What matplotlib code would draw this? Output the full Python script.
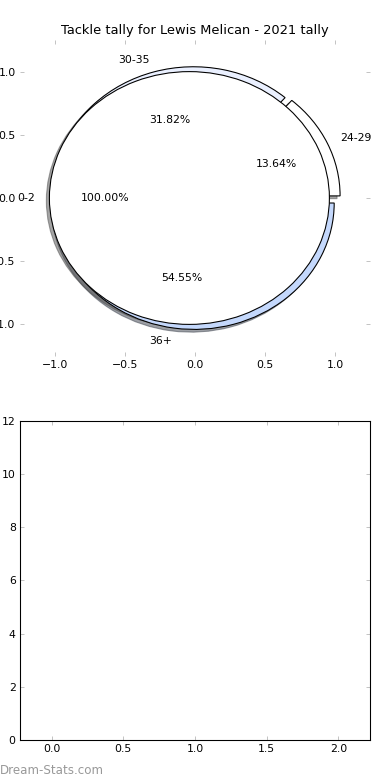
import matplotlib
matplotlib.use("Agg")
import matplotlib.pyplot as plt

# Data
outer_labels = ["24-29", "30-35", "36+"]
outer_values = [3, 7, 12]
outer_colors = ["#ffffff", "#eaf0ff", "#c4d8fc"]
inner_labels = ["0-2"]
inner_values = [22]
inner_colors = ["#ffffff"]
title = "Tackle tally for Lewis Melican - 2021 tally"

plt.rcParams.update({
    "font.family": "DejaVu Sans",
    "font.size": 10,
    "xtick.direction": "in",
    "ytick.direction": "in",
    "xtick.top": True,
    "ytick.right": True,
    "xtick.major.size": 4,
    "ytick.major.size": 4,
    "xtick.major.pad": 4,
    "ytick.major.pad": 4,
})

fig = plt.figure(figsize=(5, 10), dpi=78, facecolor="white")
ax1 = fig.add_axes([0.0513, 0.5436, 0.8974, 0.4051])
ax2 = fig.add_axes([0.0513, 0.0513, 0.8974, 0.409])

wp = dict(edgecolor="black", linewidth=1.0)
ax1.pie(outer_values, labels=outer_labels, colors=outer_colors,
        explode=[0.04] * len(outer_values), autopct="%1.2f%%",
        startangle=0, shadow=True, frame=True, wedgeprops=wp)
ax1.pie(inner_values, labels=inner_labels, colors=inner_colors,
        explode=[0.04], autopct="%1.2f%%",
        startangle=0, shadow=True, frame=True, wedgeprops=wp)
ax1.set_aspect("auto")
ax1.set_xlim(-1.25, 1.25)
ax1.set_ylim(-1.25, 1.25)
ax1.set_xticks([-1.0, -0.5, 0.0, 0.5, 1.0])
ax1.set_yticks([-1.0, -0.5, 0.0, 0.5, 1.0])
for s in ax1.spines.values():
    s.set_visible(False)
ax1.tick_params(color="#bbbbbb", labelcolor="black")
ax1.set_title(title, fontsize=12)

ax2.set_xlim(-0.22, 2.22)
ax2.set_ylim(0, 12)
ax2.set_xticks([0.0, 0.5, 1.0, 1.5, 2.0])
ax2.set_yticks([0, 2, 4, 6, 8, 10, 12])
ax2.tick_params(color="#bbbbbb", labelcolor="black")
for s in ax2.spines.values():
    s.set_color("black")
    s.set_linewidth(1.0)

fig.text(0.0, 0.004, "Dream-Stats.com", color="#999999", fontsize=11,
         ha="left", va="bottom")

fig.savefig("out.png", dpi=78, facecolor="white")
